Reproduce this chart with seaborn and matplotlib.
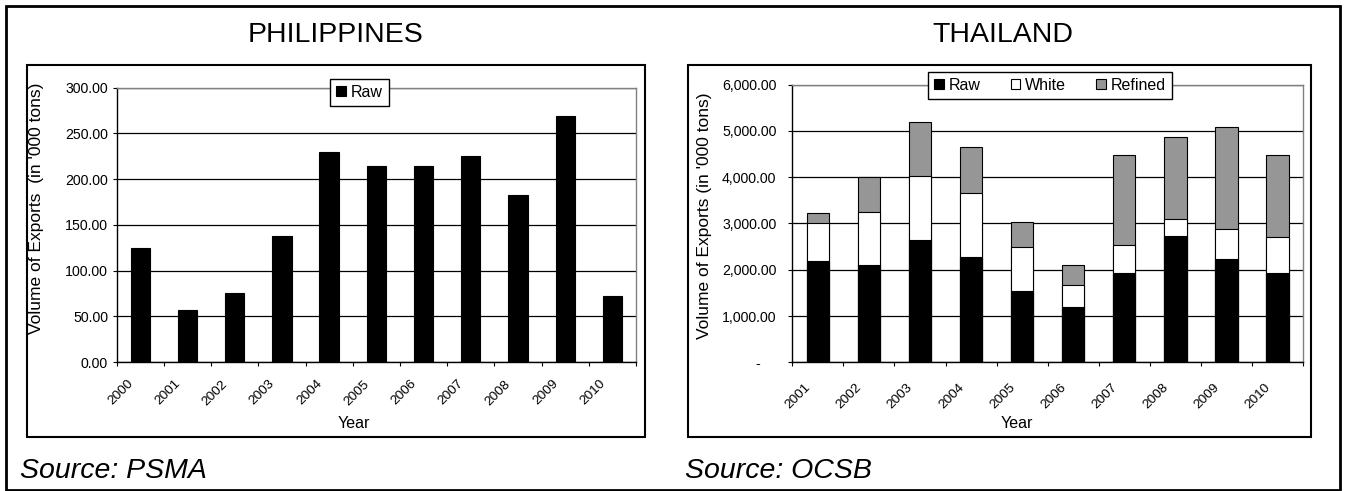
import seaborn as sns
import matplotlib.pyplot as plt
import matplotlib.transforms as mtransforms
from matplotlib.patches import Rectangle, Patch
import numpy as np
import pandas as pd

# Philippines raw sugar exports ('000 tons)
years_ph = ['2000', '2001', '2002', '2003', '2004', '2005', '2006', '2007', '2008', '2009', '2010']
raw_ph = [125, 57, 75, 137.5, 230, 214, 214, 225.5, 183, 269, 72.5]

# Thailand exports by type ('000 tons)
years_th = ['2001', '2002', '2003', '2004', '2005', '2006', '2007', '2008', '2009', '2010']
raw_th = [2190, 2100, 2640, 2270, 1545, 1185, 1935, 2730, 2225, 1935]
white_th = [830, 1140, 1395, 1395, 940, 485, 605, 375, 655, 775]
refined_th = [200, 770, 1150, 990, 540, 425, 1940, 1775, 2215, 1775]

ph_ticks = [0, 50, 100, 150, 200, 250, 300]
th_ticks = [0, 1000, 2000, 3000, 4000, 5000, 6000]

sns.set_style("white")
plt.rcParams['font.family'] = ['Liberation Sans', 'DejaVu Sans']
plt.rcParams['text.color'] = 'black'
plt.rcParams['axes.labelcolor'] = 'black'
plt.rcParams['xtick.color'] = 'black'
plt.rcParams['ytick.color'] = 'black'

W, H = 1345, 491
fig = plt.figure(figsize=(W / 100, H / 100), dpi=100)


def fx(px):
    return px / W


def fy(py):
    return 1 - py / H


ax1 = fig.add_axes([fx(116.7), fy(362), fx(636 - 116.7), (362 - 87.7) / H])
ax2 = fig.add_axes([fx(792.3), fy(362.3), fx(1303 - 792.3), (362.3 - 84.7) / H])

df_ph = pd.DataFrame({'Year': years_ph, 'Raw': raw_ph})
sns.barplot(data=df_ph, x='Year', y='Raw', color='black', saturation=1, width=0.41,
            edgecolor='black', linewidth=0.8, errorbar=None, ax=ax1)

df_th = pd.DataFrame({'Year': years_th, 'Raw': raw_th, 'White': white_th, 'Refined': refined_th})
df_th['RawWhite'] = df_th['Raw'] + df_th['White']
df_th['Total'] = df_th['RawWhite'] + df_th['Refined']
for col, c in [('Total', '#969696'), ('RawWhite', 'white'), ('Raw', 'black')]:
    sns.barplot(data=df_th, x='Year', y=col, color=c, saturation=1, width=0.44,
                edgecolor='black', linewidth=0.8, errorbar=None, ax=ax2)

tick_len = 4 * 72 / 100
for ax, n, ticks, ymax, ypad, dy in [(ax1, len(years_ph), ph_ticks, 300, 3.3, -0.20),
                                     (ax2, len(years_th), th_ticks, 6000, 8.5, -0.23)]:
    ax.set_xlim(-0.5, n - 0.5)
    ax.set_ylim(0, ymax)
    ax.set_yticks(ticks)
    if ax is ax1:
        ax.set_yticklabels([f"{v:.2f}" for v in ticks])
    else:
        ax.set_yticklabels(["-    " if v == 0 else f"{v:,.2f}" for v in ticks])
    ax.tick_params(axis='y', length=tick_len, width=0.8, direction='out', pad=ypad,
                   labelsize=10.2, color='black', labelcolor='black', left=True)
    ax.set_xticks(np.arange(-0.5, n), minor=True)
    ax.tick_params(axis='x', which='minor', length=tick_len, width=0.8, direction='out',
                   color='black', bottom=True)
    ax.tick_params(axis='x', which='major', length=0, pad=0, labelsize=9.7, labelcolor='black')
    off = mtransforms.ScaledTranslation(-0.09, dy, fig.dpi_scale_trans)
    for lbl in ax.get_xticklabels():
        lbl.set_rotation(45)
        lbl.set_ha('right')
        lbl.set_va('center')
        lbl.set_rotation_mode('anchor')
        lbl.set_transform(lbl.get_transform() + off)
    ax.set_xlabel('')
    ax.set_ylabel('')
    ax.yaxis.grid(True, color='black', linewidth=0.9)
    ax.set_axisbelow(True)
    for s in ['top', 'right']:
        ax.spines[s].set_color('#808080')
        ax.spines[s].set_linewidth(1.0)
    for s in ['left', 'bottom']:
        ax.spines[s].set_color('black')
        ax.spines[s].set_linewidth(1.0)

# legends
leg_kw = dict(frameon=True, fancybox=False, edgecolor='black', fontsize=11.5,
              handlelength=0.6, handleheight=0.6, handletextpad=0.3, borderpad=0.4,
              labelcolor='black')
h_raw = Patch(facecolor='black', edgecolor='black', linewidth=0.8)
h_white = Patch(facecolor='white', edgecolor='black', linewidth=0.8)
h_ref = Patch(facecolor='#969696', edgecolor='black', linewidth=0.8)
l1 = fig.legend([h_raw], ['Raw'], loc='center', bbox_to_anchor=(fx(359.5), fy(92.5)), **leg_kw)
l2 = fig.legend([h_raw, h_white, h_ref], ['Raw', 'White', 'Refined'], ncol=3, columnspacing=1.9,
                loc='center', bbox_to_anchor=(fx(1050), fy(85.5)), **leg_kw)
for lg in (l1, l2):
    lg.get_frame().set_linewidth(1.0)
    lg.get_frame().set_alpha(1)

# titles and axis titles
fig.text(fx(336), fy(35), 'PHILIPPINES', ha='center', va='center', fontsize=20.5, color='black')
fig.text(fx(1003), fy(35), 'THAILAND', ha='center', va='center', fontsize=20.5, color='black')
fig.text(fx(354), fy(423), 'Year', ha='center', va='center', fontsize=11.5, color='black')
fig.text(fx(1017), fy(423), 'Year', ha='center', va='center', fontsize=11.5, color='black')
fig.text(fx(36.5), fy(208.5), "Volume of Exports  (in '000 tons)", rotation=90,
         ha='center', va='center', fontsize=12.5, color='black')
fig.text(fx(704.5), fy(216), "Volume of Exports (in '000 tons)", rotation=90,
         ha='center', va='center', fontsize=12.5, color='black')
fig.text(fx(20), fy(471), 'Source: PSMA', ha='left', va='center', fontsize=20.5,
         style='italic', color='black')
fig.text(fx(685), fy(471), 'Source: OCSB', ha='left', va='center', fontsize=20.5,
         style='italic', color='black')

# chart area boxes and outer frame
for x0, x1 in [(26.7, 645), (687.7, 1310.7)]:
    fig.add_artist(Rectangle((fx(x0), fy(437)), fx(x1 - x0), (437 - 65) / H,
                             transform=fig.transFigure, fill=False, edgecolor='black', linewidth=1.5))
fig.add_artist(Rectangle((fx(6), fy(489.5)), fx(1334), 483.5 / H,
                         transform=fig.transFigure, fill=False, edgecolor='black', linewidth=2))

fig.savefig('out.png', dpi=100)
